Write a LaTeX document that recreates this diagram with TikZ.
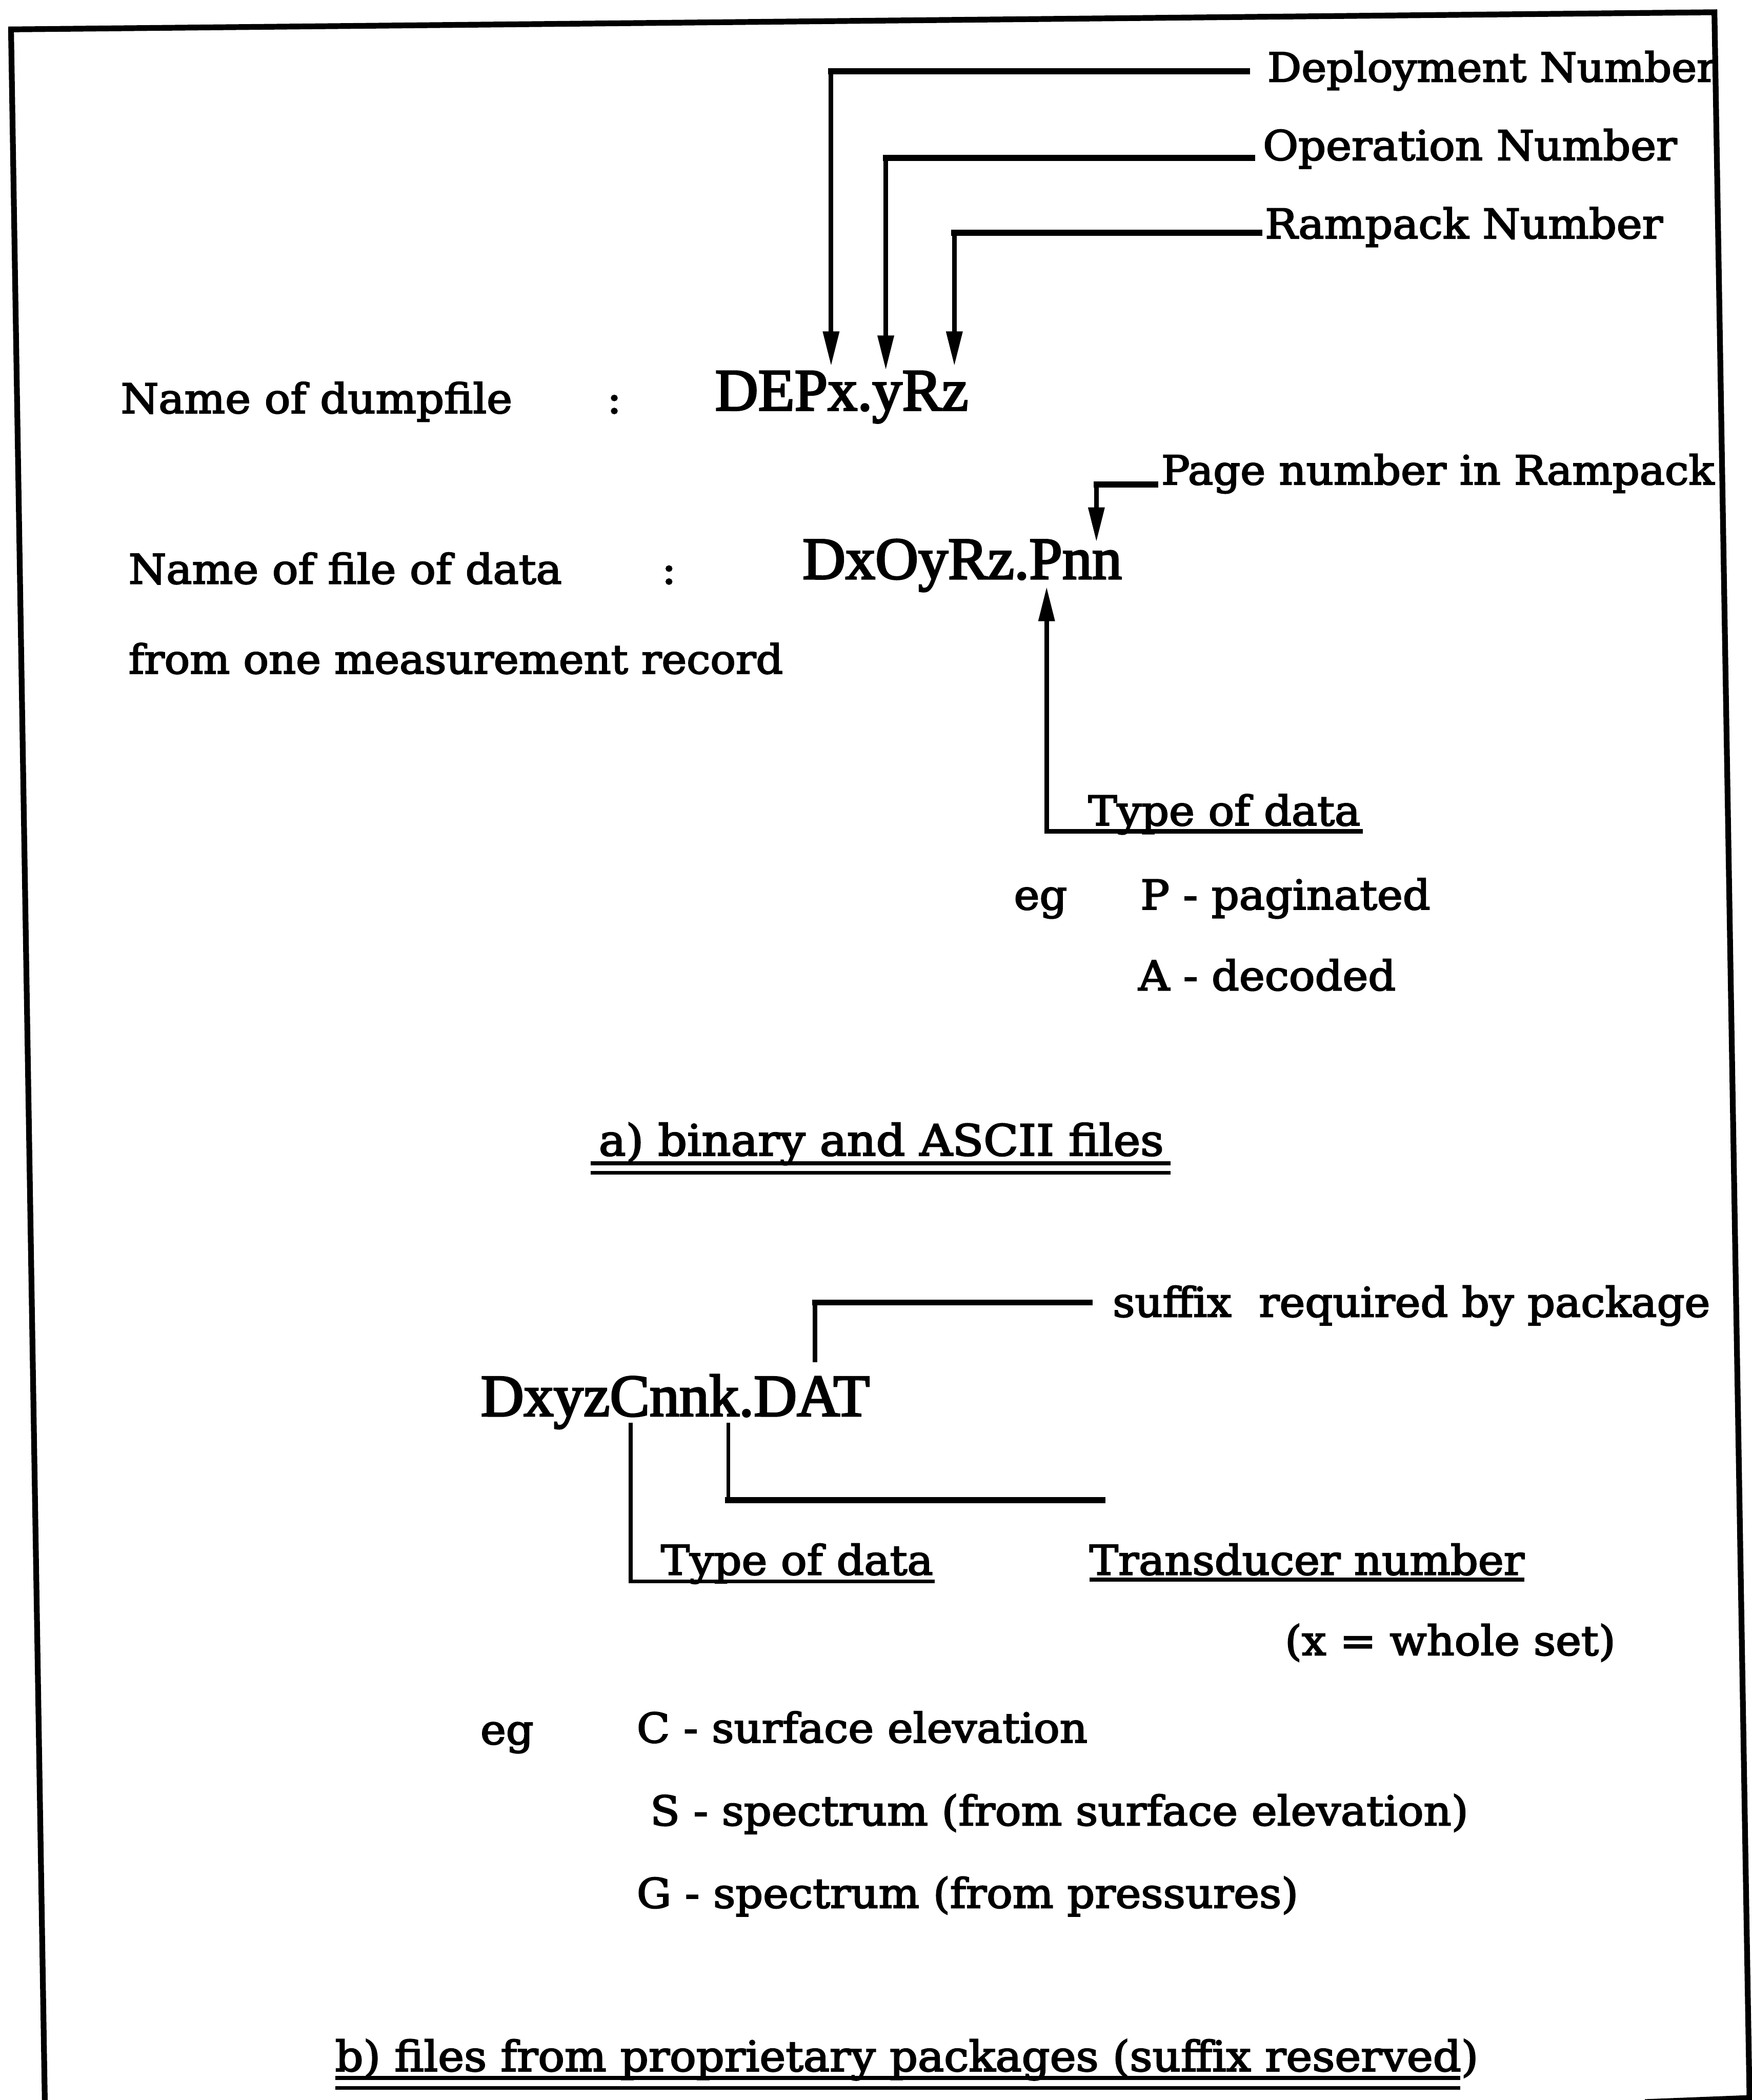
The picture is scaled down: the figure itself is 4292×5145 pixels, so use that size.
\documentclass[tikz,border=0pt]{standalone}
\usepackage{fontspec}
\setmainfont{DejaVu Serif}[FakeStretch=1.055, FakeBold=3]
\newfontfamily\bigserif{Liberation Serif}[FakeBold=3]
\usetikzlibrary{arrows.meta}
\tikzset{
 lbl/.style={anchor=base west, inner sep=0pt, outer sep=0pt, font=\fontsize{28.5}{34}\selectfont},
 bigl/.style={anchor=base west, inner sep=0pt, outer sep=0pt, font=\bigserif\fontsize{41.5}{50}\selectfont},
 frameline/.style={line width=4pt, line join=miter},
 hconn/.style={line width=4.2pt, line cap=rect},
 vconn/.style={line width=3.2pt, line cap=rect},
 thinconn/.style={line width=2.6pt, line cap=rect},
 uline/.style={line width=2.6pt},
 tip/.style={-{Triangle[length=0.85cm,width=0.38cm]}},
}
\begin{document}
\begin{tikzpicture}[x=0.01cm,y=-0.01cm]
\useasboundingbox (0,0) rectangle (4292,5145);
\fill[white] (0,0) rectangle (4292,5145);
% frame
\draw[frameline] (110,5160) -- (27,72) -- (4200,30) -- (4286,5140) -- (4030,5150);

% labels
\node[lbl, font=\fontsize{28}{34}\selectfont] (dep) at (3105,200) {Deployment Number};
\node[lbl] (op) at (3094,392) {Operation Number};
\node[lbl] (ramp) at (3099,584) {Rampack Number};
\node[lbl] (ndump) at (296,1012) {Name of dumpfile};
\node[lbl] (col1) at (1487,1012) {:};
\node[bigl] (dump) at (1752,1005) {DEPx.yRz};
\node[lbl, font=\fontsize{28}{34}\selectfont] (page) at (2845,1187) {Page number in Rampack};
\node[lbl] (nfile) at (315,1430) {Name of file of data};
\node[lbl] (col2) at (1621,1430) {:};
\node[bigl] (pnn) at (1966,1418) {DxOyRz.Pnn};
\node[lbl, font=\fontsize{27.9}{34}\selectfont] (nrec) at (315,1650) {from one measurement record};
\node[lbl] (tdA) at (2666,2022) {Type of data};
\node[lbl] (egA) at (2484,2228) {eg};
\node[lbl] (pag) at (2794,2228) {P - paginated};
\node[lbl] (dec) at (2789,2426) {A - decoded};
\node[lbl, font=\fontsize{30}{36}\selectfont] (secA) at (1467,2831) {a) binary and ASCII files};
\node[lbl] (sfx) at (2726,3226) {suffix\ \ required by package};
\node[bigl] (dat) at (1178,3469) {DxyzCnnk.DAT};
\node[lbl] (tdB) at (1619,3858) {Type of data};
\node[lbl] (trn) at (2669,3858) {Transducer number};
\node[lbl] (ws) at (3148,4055) {(x = whole set)};
\node[lbl] (egB) at (1177,4273) {eg};
\node[lbl] (cse) at (1560,4269) {C - surface elevation};
\node[lbl] (sse) at (1593,4472) {S - spectrum (from surface elevation)};
\node[lbl] (gsp) at (1560,4674) {G - spectrum (from pressures)};
\node[lbl, font=\fontsize{29.1}{35}\selectfont] (secB) at (821,5074) {b) files from proprietary packages (suffix reserved)};

% target points on the file names
\coordinate (tx) at (2036,897);
\coordinate (ty) at (2170,907);
\coordinate (tz) at (2338,897);
\coordinate (tn) at (2686,1328);
\coordinate (tP) at (2564,1437);
\coordinate (tDAT) at (1997,3332);
\coordinate (tC) at (1545,3490);
\coordinate (tk) at (1784,3490);

% Deployment
\coordinate (dA) at ([xshift=-0.5cm,yshift=0.25cm]dep.base west);
\draw[hconn] (dA) -- (dA -| tx) coordinate (dB);
\draw[vconn,tip] (dB) -- (tx);
% Operation
\coordinate (oA) at ([xshift=-0.26cm,yshift=0.05cm]op.base west);
\draw[hconn] (oA) -- (oA -| ty) coordinate (oB);
\draw[vconn,tip] (oB) -- (ty);
% Rampack
\coordinate (rA) at ([xshift=-0.14cm,yshift=0.14cm]ramp.base west);
\draw[hconn] (rA) -- (rA -| tz) coordinate (rB);
\draw[vconn,tip] (rB) -- (tz);
% Page number
\coordinate (pA) at ([xshift=-0.15cm]page.base west);
\draw[hconn] (pA) -- (pA -| tn) coordinate (pB);
\draw[vconn,tip] (pB) -- (tn);
% Type of data (a)
\coordinate (uaR) at ([yshift=-0.15cm]tdA.base east);
\draw[vconn,tip] (uaR) -- (uaR -| tP) -- (tP);
% a) title double underline
\draw[uline] ([xshift=-0.2cm,yshift=-0.19cm]secA.base west) -- ([xshift=0.16cm,yshift=-0.19cm]secA.base east);
\draw[uline] ([xshift=-0.2cm,yshift=-0.42cm]secA.base west) -- ([xshift=0.16cm,yshift=-0.42cm]secA.base east);

% suffix
\coordinate (sA) at ([xshift=-0.57cm,yshift=0.35cm]sfx.base west);
\draw[hconn] (sA) -- (sA -| tDAT) coordinate (sB);
\draw[vconn] (sB) -- (tDAT);
% Transducer
\coordinate (trA) at ([xshift=0.32cm,yshift=1.83cm]trn.base west);
\draw[hconn] (trA) -- (trA -| tk) coordinate (trB);
\draw[thinconn] (trB) -- (tk);
\draw[uline] ([yshift=-0.12cm]trn.base west) -- ([yshift=-0.12cm]trn.base east);
% Type of data (b)
\coordinate (ubR) at ([yshift=-0.16cm]tdB.base east);
\draw[thinconn] (ubR) -- (ubR -| tC) -- (tC);
% b) title double underline
\draw[uline] ([yshift=-0.17cm]secB.base west) -- ([xshift=-0.45cm,yshift=-0.17cm]secB.base east);
\draw[uline] ([yshift=-0.41cm]secB.base west) -- ([xshift=-0.45cm,yshift=-0.41cm]secB.base east);
\end{tikzpicture}
\end{document}
